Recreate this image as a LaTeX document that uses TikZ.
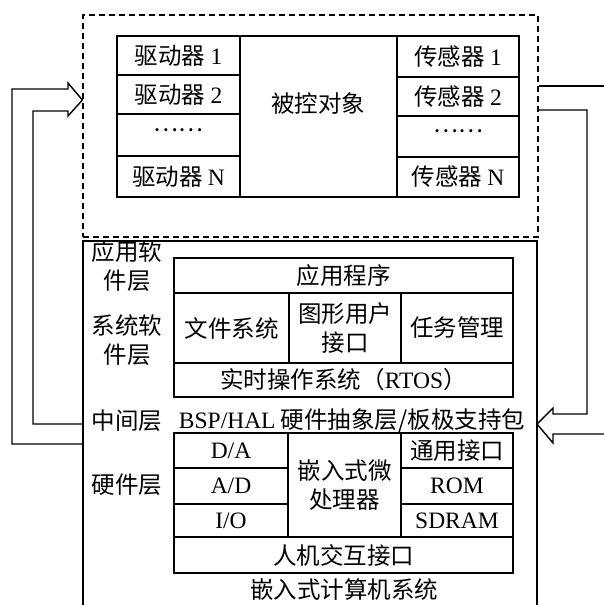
\documentclass[tikz,border=0pt]{standalone}
\usepackage{fontspec}
\setmainfont{Liberation Serif}
\newfontfamily\zhfont{Noto Sans CJK SC}
\newcommand{\lat}[1]{{\rmfamily #1}}
% \boxcell{name}{x1}{y1}{x2}{y2}{text}
\newcommand{\boxcell}[6]{%
  \node[cell, minimum width={(#4-#2)*1pt}, minimum height={(#5-#3)*1pt}]
    (#1) at ({(#2+#4)/2},{(#3+#5)/2}) {#6};}
\begin{document}
\begin{tikzpicture}[x=1pt,y=-1pt,
  line width=1.4pt,
  every node/.style={font=\zhfont\fontsize{23.5}{29}\selectfont, inner sep=0pt},
  cell/.style={draw, rectangle, inner sep=0pt, align=center},
  txt/.style={align=center},
  dashbox/.style={draw, dashed, dash pattern=on 6pt off 4pt, line width=1.2pt, inner sep=0pt},
  hollow/.style={line width=1.4pt, line join=miter},
]
\useasboundingbox (0,0) rectangle (604,605);

% controlled plant (dashed)
\node[dashbox, minimum width=455pt, minimum height=222pt] (plant) at (310.5,126) {};
\boxcell{d1}{117}{36}{240}{75}{驱动器 \lat{1}}
\boxcell{d2}{117}{75}{240}{114}{驱动器 \lat{2}}
\boxcell{d3}{117}{114}{240}{156}{}
\boxcell{dn}{117}{156}{240}{197}{驱动器 \lat{N}}
\boxcell{obj}{240}{36}{397}{197}{}
\node[txt] (objtxt) at (318,104) {被控对象};
\boxcell{s1}{397}{36}{519}{77}{传感器 \lat{1}}
\boxcell{s2}{397}{77}{519}{116}{传感器 \lat{2}}
\boxcell{s3}{397}{116}{519}{157}{}
\boxcell{sn}{397}{157}{519}{197}{传感器 \lat{N}}
\node[txt] (ddots) at (178,130) {……};
\node[txt] (sdots) at (458,131) {……};

% embedded computer system (open at the bottom)
\coordinate (ebl) at (83,605);
\coordinate (etl) at (83,241);
\coordinate (etr) at (537,241);
\coordinate (ebr) at (537,605);
\draw (ebl) -- (etl) -- (etr) -- (ebr);

% layer labels
\node[txt] (l1) at (127,266) {应用软\\件层};
\node[txt] (l2) at (127,340) {系统软\\件层};
\node[txt] (l3) at (127,421) {中间层};
\node[txt] (l4) at (127,485) {硬件层};

% software
\boxcell{app}{174}{258}{513}{293}{应用程序}
\boxcell{fs}{174}{293}{289}{363}{文件系统}
\boxcell{gui}{289}{293}{401}{363}{图形用户\\接口}
\boxcell{task}{401}{293}{513}{363}{任务管理}
\boxcell{rtos}{174}{363}{513}{397}{实时操作系统（\lat{RTOS}）}

% middle layer
\node[txt] (bsp) at (352,421) {\lat{BSP/HAL} 硬件抽象层/板极支持包};

% hardware
\boxcell{da}{174}{433}{288}{468}{\lat{D/A}}
\boxcell{ad}{174}{468}{288}{504}{\lat{A/D}}
\boxcell{io}{174}{504}{288}{537}{\lat{I/O}}
\boxcell{cpu}{288}{433}{401}{537}{嵌入式微\\处理器}
\boxcell{gio}{401}{433}{513}{468}{通用接口}
\boxcell{rom}{401}{468}{513}{504}{\lat{ROM}}
\boxcell{ram}{401}{504}{513}{537}{\lat{SDRAM}}
\boxcell{hmi}{174}{537}{513}{573}{人机交互接口}
\node[txt] (title) at (344,590) {嵌入式计算机系统};

% hollow arrow: computer -> plant (left)
\draw[hollow] (etl |- 0,444) -- (12,444) -- (12,89) -- (68,89) -- (68,83)
  -- (plant.west |- 0,100) -- (68,116) -- (68,111) -- (33,111) -- (33,424) -- (etl |- 0,424);

% hollow arrow: plant -> computer (right)
\draw[hollow] (plant.east |- 0,86) -- (604,86);
\draw[hollow] (plant.east |- 0,110) -- (587,110) -- (587,414) -- (553,414) -- (553,408)
  -- (etr |- 0,424) -- (553,443) -- (553,434) -- (604,434);
\end{tikzpicture}
\end{document}
